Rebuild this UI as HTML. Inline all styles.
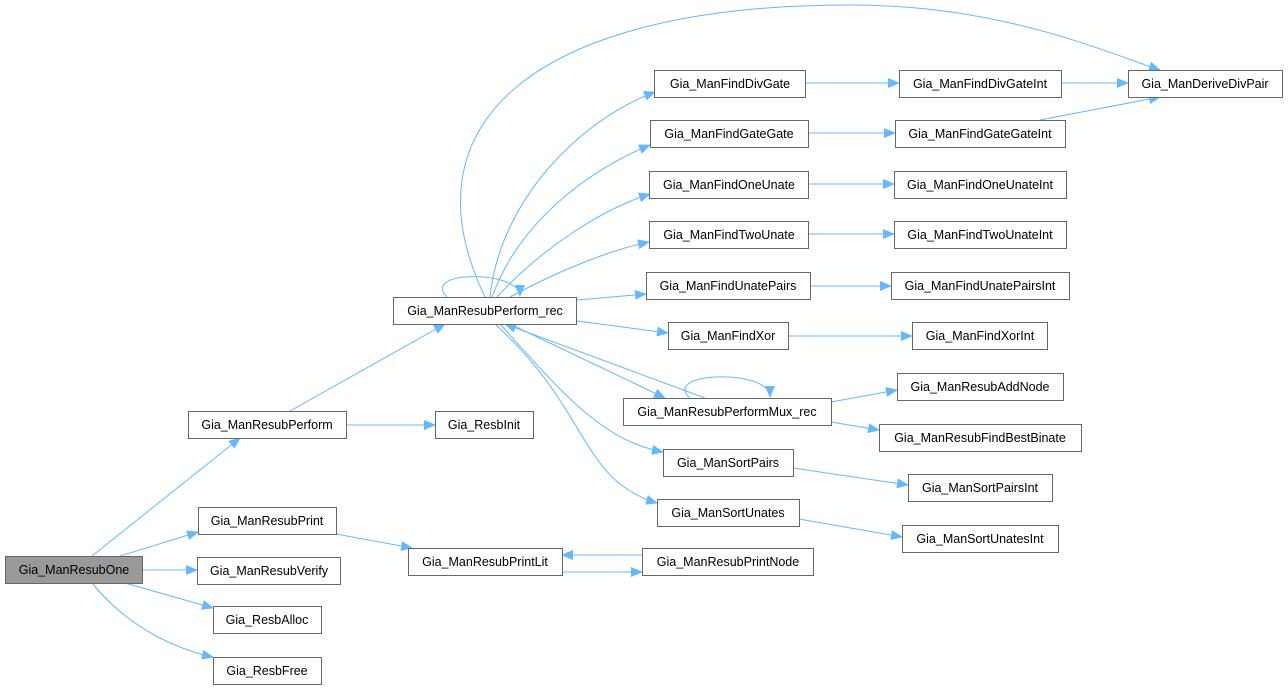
<!DOCTYPE html>
<html><head><meta charset="utf-8"><style>
body{margin:0;background:#fff}
svg{display:block}
text{font-family:"Liberation Sans",Arial,sans-serif;font-size:12.5px;fill:#000}
.n{fill:#fff;stroke:#666;stroke-width:1}
.e{fill:none;stroke:#63b8ff;stroke-width:1}
</style></head><body>
<svg width="1288" height="690" viewBox="0 0 1288 690" xmlns="http://www.w3.org/2000/svg">
<defs><marker id="a" markerWidth="12" markerHeight="10" refX="11" refY="5" orient="auto" markerUnits="userSpaceOnUse"><path d="M0,0 L12,5 L0,10 z" fill="#63b8ff"/></marker></defs>
<g class="e" marker-end="url(#a)">
<path d="M92,556 L240,438"/>
<path d="M120,556 L198,532"/>
<path d="M142,570 L197,570"/>
<path d="M125,583 L213,608"/>
<path d="M92,583 C130,630 180,650 213,657"/>
<path d="M290,411 L445,324"/>
<path d="M346,425 L435,425"/>
<path d="M336,534 L412,548"/>
<path d="M562,572 L642,572"/>
<path d="M642,555 L562,555"/>
<path d="M447,297 C420,270 520,270 520,296"/>
<path d="M490,297 C500,200 580,120 655,92"/>
<path d="M485,297 C400,120 540,5 850,5 C1000,5 1100,50 1160,70"/>
<path d="M492,297 C520,220 590,170 650,145"/>
<path d="M497,297 C540,250 600,210 650,194"/>
<path d="M510,297 C560,270 610,250 649,242"/>
<path d="M577,300 L646,294"/>
<path d="M577,321 L668,333"/>
<path d="M510,324 L665,398"/>
<path d="M705,398 L505,324"/>
<path d="M690,398 C660,372 770,368 770,397"/>
<path d="M500,324 C560,390 600,440 663,452"/>
<path d="M495,324 C590,410 580,480 657,503"/>
<path d="M805,83 L899,83"/>
<path d="M1061,83 L1128,83"/>
<path d="M808,133 L895,133"/>
<path d="M1040,120 L1160,97"/>
<path d="M808,184 L894,184"/>
<path d="M808,234 L894,234"/>
<path d="M810,286 L891,286"/>
<path d="M788,336 L912,336"/>
<path d="M831,402 L897,390"/>
<path d="M831,422 L879,430"/>
<path d="M793,468 L908,485"/>
<path d="M799,519 L902,537"/>
</g>
<rect x="5.5" y="556.5" width="137" height="27" fill="#999" stroke="#666"/><text x="74" y="574" text-anchor="middle">Gia_ManResubOne</text>
<g text-anchor="middle">
<rect class="n" x="188.5" y="411.5" width="158" height="27"/><text x="267" y="429">Gia_ManResubPerform</text>
<rect class="n" x="435.5" y="411.5" width="98" height="27"/><text x="484" y="429">Gia_ResbInit</text>
<rect class="n" x="198.5" y="507.5" width="138" height="27"/><text x="267" y="525">Gia_ManResubPrint</text>
<rect class="n" x="197.5" y="557.5" width="143" height="27"/><text x="269" y="575">Gia_ManResubVerify</text>
<rect class="n" x="213.5" y="606.5" width="108" height="27"/><text x="267" y="624">Gia_ResbAlloc</text>
<rect class="n" x="213.5" y="657.5" width="108" height="27"/><text x="267" y="675">Gia_ResbFree</text>
<rect class="n" x="393.5" y="297.5" width="183" height="27"/><text x="485" y="315">Gia_ManResubPerform_rec</text>
<rect class="n" x="408.5" y="548.5" width="154" height="27"/><text x="485" y="566">Gia_ManResubPrintLit</text>
<rect class="n" x="642.5" y="548.5" width="171" height="27"/><text x="728" y="566">Gia_ManResubPrintNode</text>
<rect class="n" x="654.5" y="70.5" width="151" height="27"/><text x="730" y="88">Gia_ManFindDivGate</text>
<rect class="n" x="650.5" y="120.5" width="158" height="27"/><text x="729" y="138">Gia_ManFindGateGate</text>
<rect class="n" x="649.5" y="171.5" width="159" height="27"/><text x="729" y="189">Gia_ManFindOneUnate</text>
<rect class="n" x="649.5" y="221.5" width="159" height="27"/><text x="729" y="239">Gia_ManFindTwoUnate</text>
<rect class="n" x="646.5" y="272.5" width="164" height="27"/><text x="728" y="290">Gia_ManFindUnatePairs</text>
<rect class="n" x="668.5" y="322.5" width="120" height="27"/><text x="728" y="340">Gia_ManFindXor</text>
<rect class="n" x="623.5" y="398.5" width="208" height="27"/><text x="727" y="416">Gia_ManResubPerformMux_rec</text>
<rect class="n" x="663.5" y="449.5" width="130" height="27"/><text x="728" y="467">Gia_ManSortPairs</text>
<rect class="n" x="657.5" y="499.5" width="142" height="27"/><text x="728" y="517">Gia_ManSortUnates</text>
<rect class="n" x="899.5" y="70.5" width="162" height="27"/><text x="980" y="88">Gia_ManFindDivGateInt</text>
<rect class="n" x="1128.5" y="70.5" width="154" height="27"/><text x="1205" y="88">Gia_ManDeriveDivPair</text>
<rect class="n" x="895.5" y="120.5" width="170" height="27"/><text x="980" y="138">Gia_ManFindGateGateInt</text>
<rect class="n" x="894.5" y="171.5" width="172" height="27"/><text x="980" y="189">Gia_ManFindOneUnateInt</text>
<rect class="n" x="894.5" y="221.5" width="172" height="27"/><text x="980" y="239">Gia_ManFindTwoUnateInt</text>
<rect class="n" x="891.5" y="272.5" width="178" height="27"/><text x="980" y="290">Gia_ManFindUnatePairsInt</text>
<rect class="n" x="912.5" y="322.5" width="135" height="27"/><text x="980" y="340">Gia_ManFindXorInt</text>
<rect class="n" x="897.5" y="373.5" width="166" height="27"/><text x="980" y="391">Gia_ManResubAddNode</text>
<rect class="n" x="879.5" y="424.5" width="202" height="27"/><text x="980" y="442">Gia_ManResubFindBestBinate</text>
<rect class="n" x="908.5" y="474.5" width="144" height="27"/><text x="980" y="492">Gia_ManSortPairsInt</text>
<rect class="n" x="902.5" y="525.5" width="156" height="27"/><text x="980" y="543">Gia_ManSortUnatesInt</text>
</g>
</svg>
</body></html>
